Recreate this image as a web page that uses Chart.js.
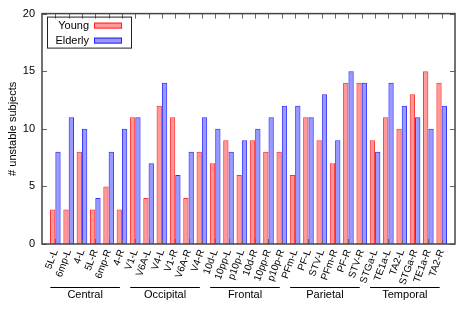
<!DOCTYPE html>
<html lang="en">
<head>
    <meta charset="UTF-8">
    <title>Unstable subjects per region</title>
    <script src="https://cdn.jsdelivr.net/npm/chart.js"></script>
    <style>
        body {
            margin: 0;
            background-color: #ffffff;
        }
        #wrap {
            width: 472px;
            height: 314px;
        }
    </style>
</head>
<body>

    <div id="wrap"><canvas id="regionChart"></canvas></div>

    <script>
        const categories = ['5L-L', '6mp-L', '4-L', '5L-R', '6mp-R', '4-R',
            'V1-L', 'V6A-L', 'V4-L', 'V1-R', 'V6A-R', 'V4-R',
            '10d-L', '10pp-L', 'p10p-L', '10d-R', '10pp-R', 'p10p-R',
            'PFm-L', 'PF-L', 'STV-L', 'PFm-R', 'PF-R', 'STV-R',
            'STGa-L', 'TE1a-L', 'TA2-L', 'STGa-R', 'TE1a-R', 'TA2-R'];
        const young   = [3, 3, 8, 3, 5, 3,  11, 4, 12, 11, 4, 8,  7, 9, 6, 9, 8, 8,  6, 11, 9, 7, 14, 14,  9, 11, 10, 13, 15, 14];
        const elderly = [8, 11, 10, 4, 8, 10,  11, 7, 14, 6, 8, 11,  10, 8, 9, 10, 11, 12,  12, 11, 13, 9, 15, 14,  8, 14, 12, 11, 10, 12];
        const groups = ['Central', 'Occipital', 'Frontal', 'Parietal', 'Temporal'];
        const groupSize = 6;
        const yTicks = [0, 5, 10, 15, 20];

        // one empty slot at each end so the first/last groups sit a full step from the frame
        const labels = [''].concat(categories, ['']);
        const pad = arr => [null].concat(arr, [null]);

        const font = 'Liberation Sans, Arial, sans-serif';

        // frame, inward ticks, legend and group captions, gnuplot style
        const decorations = {
            id: 'decorations',
            afterDatasetsDraw(chart) {
                const c = chart.ctx;
                const a = chart.chartArea;
                const xs = chart.scales.x;
                const ys = chart.scales.y;

                c.save();
                c.strokeStyle = '#666';
                c.lineWidth = 1;
                c.beginPath();
                for (let i = 1; i <= categories.length; i++) {
                    const x = Math.round(xs.getPixelForValue(i)) + 0.5;
                    c.moveTo(x, a.top); c.lineTo(x, a.top + 5);
                    c.moveTo(x, a.bottom); c.lineTo(x, a.bottom - 5);
                }
                yTicks.forEach(v => {
                    const y = Math.round(ys.getPixelForValue(v)) + 0.5;
                    c.moveTo(a.left, y); c.lineTo(a.left + 5, y);
                    c.moveTo(a.right, y); c.lineTo(a.right - 5, y);
                });
                c.stroke();

                c.strokeStyle = '#444';
                c.lineWidth = 1.5;
                c.strokeRect(a.left, a.top, a.right - a.left, a.bottom - a.top);

                // legend: text on the left, sample on the right
                const lx = a.left + 5, ly = a.top + 3;
                c.lineWidth = 1;
                c.strokeStyle = '#222';
                c.strokeRect(lx + 0.5, ly + 0.5, 84, 31);
                c.font = '11px ' + font;
                c.textAlign = 'right';
                c.textBaseline = 'middle';
                chart.data.datasets.forEach((ds, k) => {
                    const cy = ly + 9 + k * 15;
                    c.fillStyle = '#000';
                    c.fillText(ds.label, lx + 42, cy);
                    c.fillStyle = ds.backgroundColor;
                    c.fillRect(lx + 47, cy - 3, 28, 6);
                    c.strokeStyle = ds.borderColor;
                    c.strokeRect(lx + 47.5, cy - 2.5, 27, 5);
                });

                // region captions under the rotated labels
                c.strokeStyle = '#000';
                c.fillStyle = '#000';
                c.textAlign = 'center';
                groups.forEach((g, k) => {
                    const x0 = xs.getPixelForValue(1 + k * groupSize) - 5;
                    const x1 = xs.getPixelForValue(k * groupSize + groupSize) - 2;
                    c.beginPath();
                    c.moveTo(x0, 287.5);
                    c.lineTo(x1, 287.5);
                    c.stroke();
                    c.fillText(g, (x0 + x1) / 2, 295);
                });
                c.restore();
            }
        };

        const ctx = document.getElementById('regionChart').getContext('2d');

        new Chart(ctx, {
            type: 'bar',
            data: {
                labels: labels,
                datasets: [{
                    label: 'Young',
                    data: pad(young),
                    backgroundColor: 'rgba(255, 0, 0, 0.4)',
                    borderColor: 'rgba(255, 0, 0, 0.8)',
                    borderWidth: 1
                }, {
                    label: 'Elderly',
                    data: pad(elderly),
                    backgroundColor: 'rgba(0, 0, 255, 0.4)',
                    borderColor: 'rgba(0, 0, 255, 0.8)',
                    borderWidth: 1
                }]
            },
            options: {
                responsive: true,
                maintainAspectRatio: false,
                animation: false,
                categoryPercentage: 0.8,
                barPercentage: 1,
                layout: { padding: { top: 9, right: 17, left: 0, bottom: 0 } },
                plugins: {
                    legend: { display: false },
                    tooltip: { enabled: false }
                },
                scales: {
                    x: {
                        offset: false,
                        grid: { display: false, drawTicks: false },
                        border: { display: false },
                        ticks: {
                            autoSkip: false,
                            minRotation: 70,
                            maxRotation: 70,
                            padding: 4,
                            color: '#000',
                            font: { family: font, size: 10 }
                        },
                        afterFit(scale) { scale.height = 70; }
                    },
                    y: {
                        min: 0,
                        max: 20,
                        grid: { display: false, drawTicks: false },
                        border: { display: false },
                        ticks: {
                            stepSize: 5,
                            padding: 7,
                            color: '#000',
                            font: { family: font, size: 11 }
                        },
                        title: {
                            display: true,
                            text: '# unstable subjects',
                            color: '#000',
                            padding: { top: 6, bottom: 0 },
                            font: { family: font, size: 11 }
                        },
                        afterFit(scale) { scale.width = 42; }
                    }
                }
            },
            plugins: [decorations]
        });
    </script>

</body>
</html>
